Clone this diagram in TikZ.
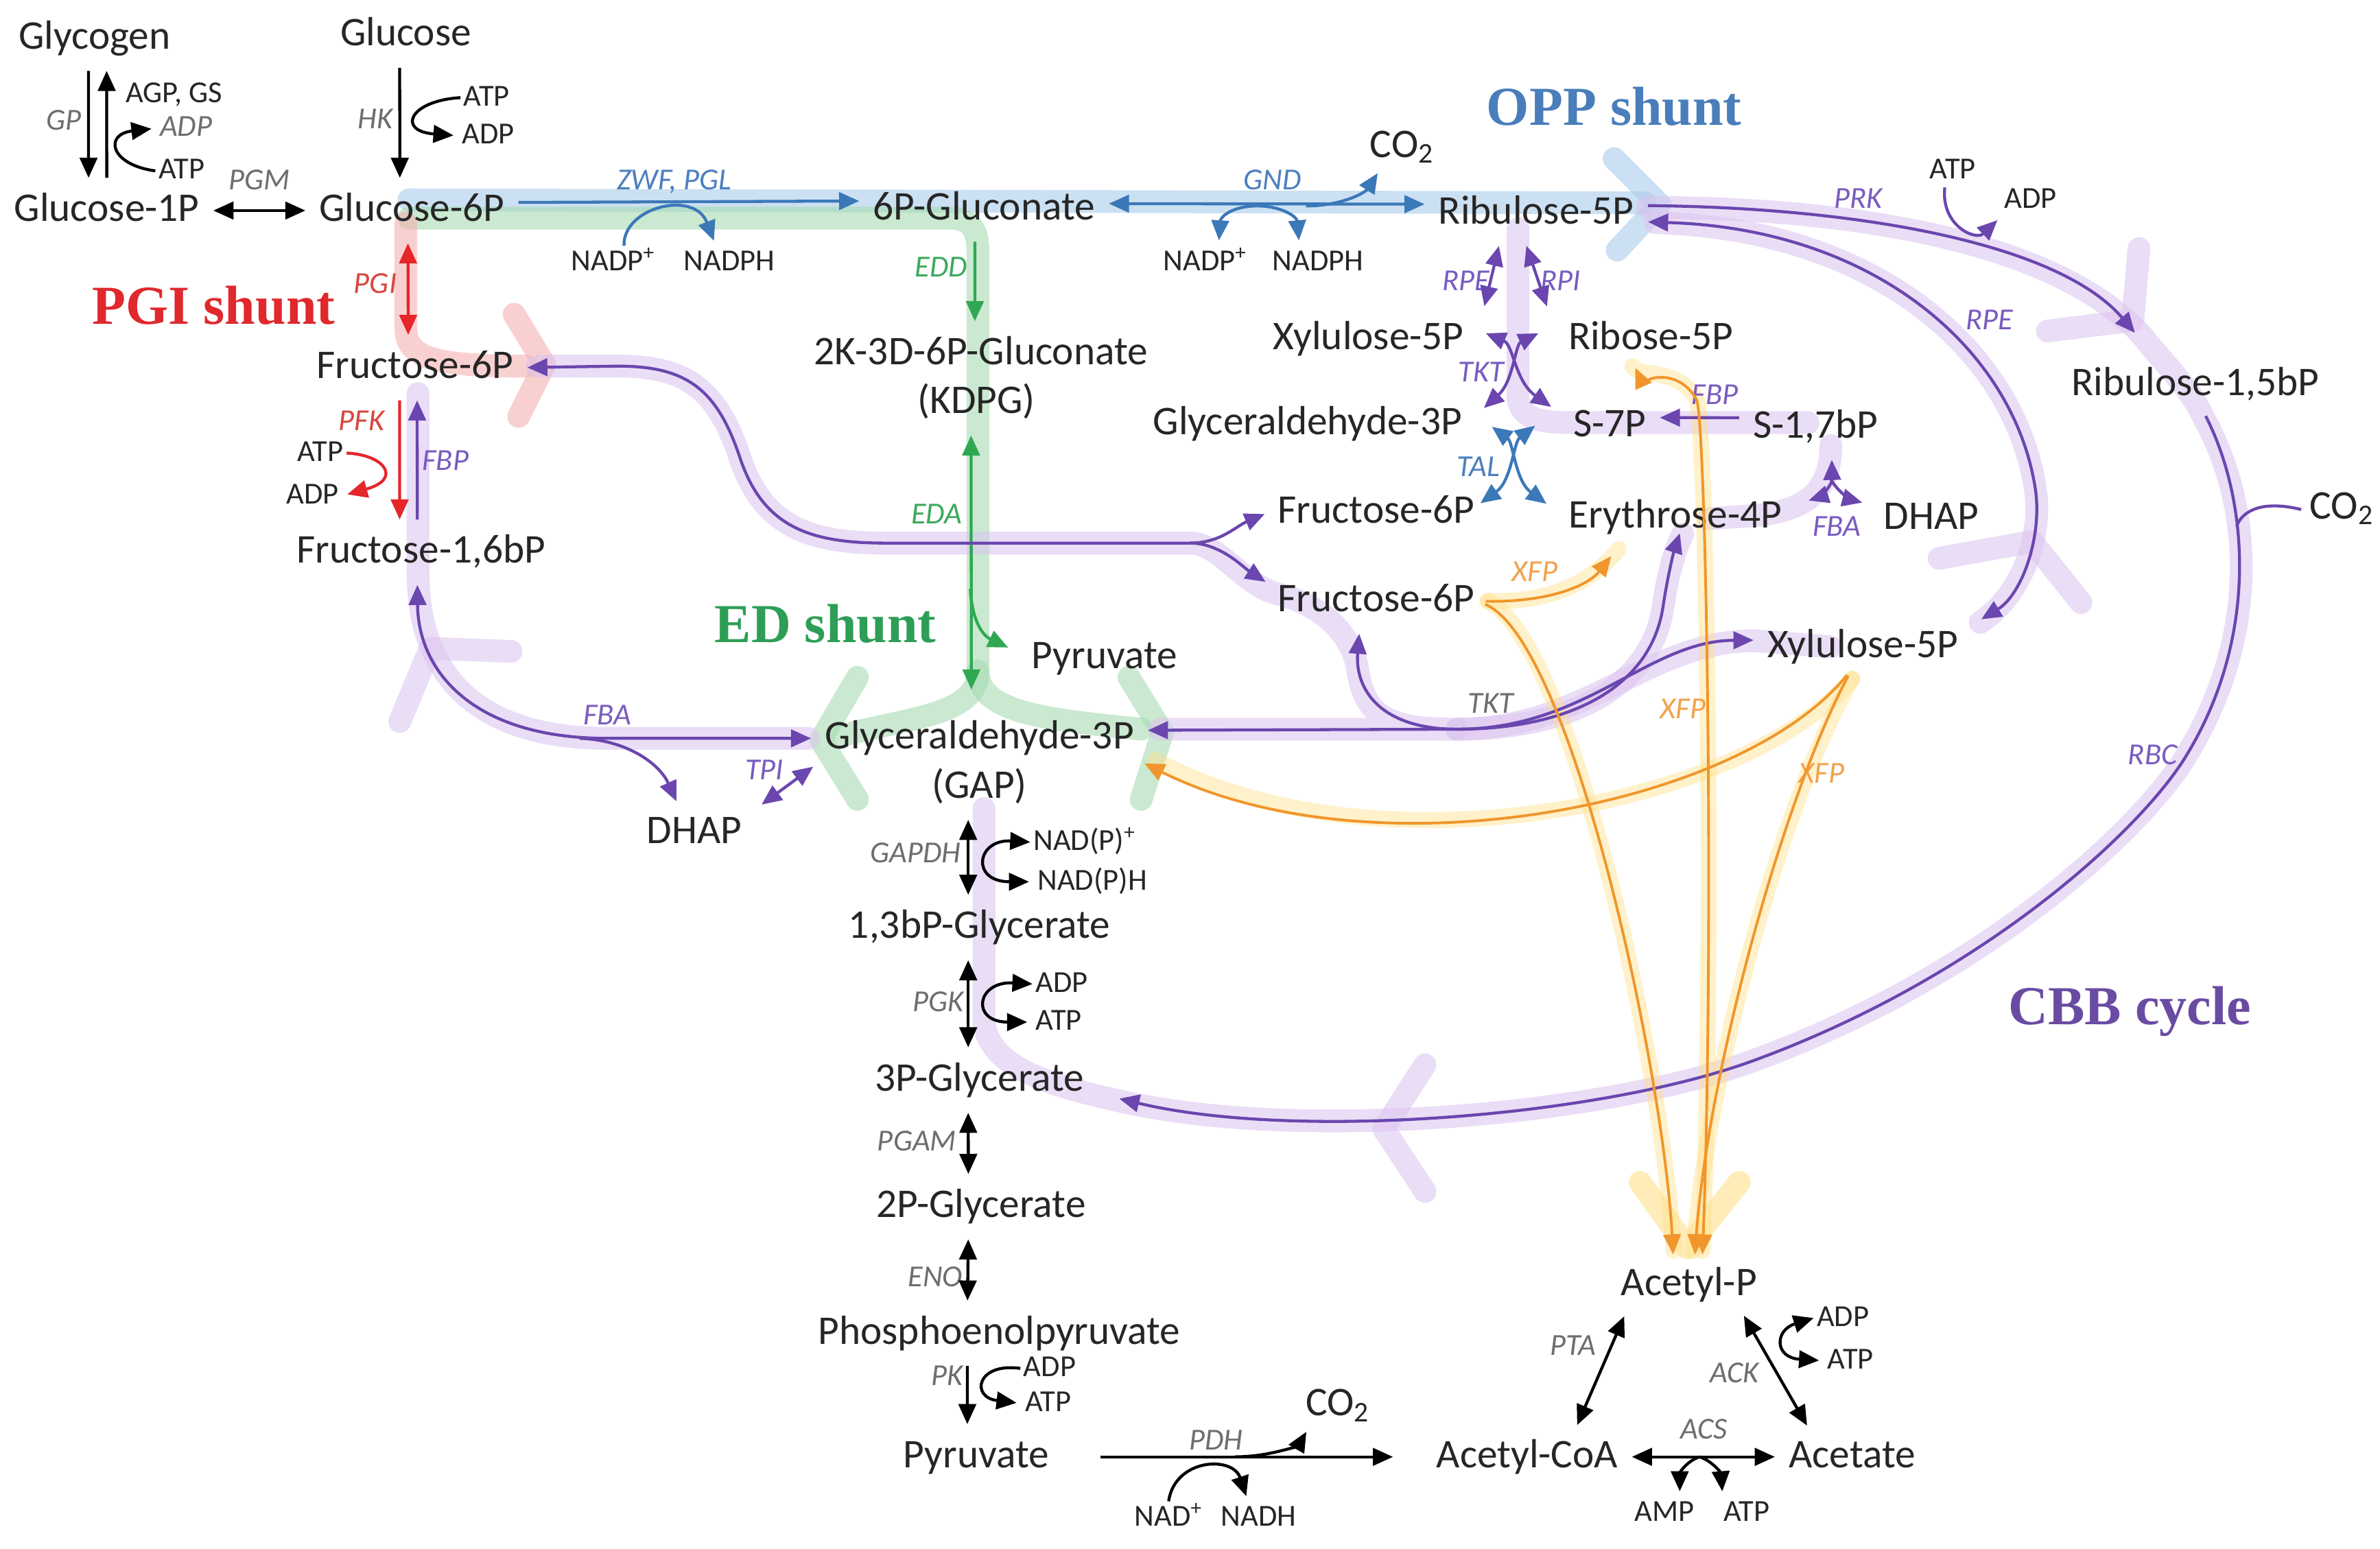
\documentclass[tikz,border=0pt]{standalone}
\usepackage{fontspec}
\setmainfont{Carlito}
\newfontfamily\titlefont{Liberation Serif}
\usetikzlibrary{arrows.meta}
\definecolor{oppblue}{HTML}{3B78B8}
\definecolor{oppglow}{HTML}{A9CBEA}
\definecolor{edgreen}{HTML}{2FA852}
\definecolor{edglow}{HTML}{A6DBB0}
\definecolor{pgired}{HTML}{E5262B}
\definecolor{pgiglow}{HTML}{F5B0B0}
\definecolor{cbbpurple}{HTML}{6A46AE}
\definecolor{cbbglow}{HTML}{DCC6F0}
\definecolor{xfporange}{HTML}{F0962C}
\definecolor{xfpglow}{HTML}{FFE08A}
\definecolor{enzgray}{HTML}{6E6E6E}
\definecolor{enzblue}{HTML}{4C80BE}
\definecolor{enzgreen}{HTML}{3CAA5E}
\definecolor{enzred}{HTML}{D9473F}
\definecolor{enzpurple}{HTML}{7A5CC0}
\definecolor{enzorange}{HTML}{F2A24C}
\definecolor{opptitle}{HTML}{4A7EBB}
\definecolor{pgititle}{HTML}{E0282D}
\definecolor{edtitle}{HTML}{2E9E57}
\definecolor{cbbtitle}{HTML}{6A4BA2}
\tikzset{
>={Triangle[length=7.5pt,width=6.5pt]},
met/.style={font=\fontsize{15.2}{18}\selectfont, text=black!85, inner sep=1pt, text height=11pt, text depth=3pt},
gas/.style={font=\fontsize{15.2}{18}\selectfont, text=black!85, inner sep=1pt, text height=10pt, text depth=3pt},
cof/.style={font=\fontsize{11.4}{13}\selectfont, text=black!85, inner sep=1pt, text height=8pt, text depth=2pt},
enz/.style={font=\fontsize{11.4}{13}\selectfont\itshape, text=enzgray, inner sep=1pt, text height=8pt, text depth=2pt},
shunt/.style={font=\titlefont\fontsize{20.5}{24}\selectfont\bfseries},
rx/.style={line width=1.1pt, shorten >=4pt, shorten <=4pt},
branch/.style={line width=1.1pt, shorten >=4pt},
side/.style={line width=1.1pt, shorten >=2pt},
tight/.style={line width=1.1pt},
xfp/.style={line width=1pt, draw=xfporange, shorten >=3pt, shorten <=3pt},
glow/.style={line width=8.5pt, line cap=round, line join=round, opacity=0.6},
thinglow/.style={line width=6pt, line cap=round, line join=round, opacity=0.45},
}

\begin{document}
\begin{tikzpicture}[x=0.02cm,y=-0.02cm]
    \useasboundingbox (0,0) rectangle (1560,1015);

    % highlighted routes
    \draw[glow,draw=oppglow] (268,131) -- (1078,133);
    \draw[glow,draw=oppglow] (1058,104) -- (1088,134) -- (1060,164);
    \draw[glow,draw=edglow] (268,143) -- (622,143) .. controls (636,143) and (641,150) .. (641,165) -- (641,440) .. controls (641,468) and (600,470) .. (552,482);
    \draw[glow,draw=edglow] (641,440) .. controls (641,468) and (690,472) .. (748,478);
    \draw[glow,draw=edglow] (562,444) -- (538,485) -- (562,524);
    \draw[glow,draw=edglow] (740,444) -- (762,480) -- (748,524);
    \draw[glow,draw=pgiglow] (266,146) -- (266,215) .. controls (266,235) and (285,240) .. (345,240);
    \draw[glow,draw=pgiglow] (337,206) -- (357,239) -- (340,273);
    \draw[glow,draw=cbbglow] (352,240) -- (405,240) .. controls (450,240) and (470,255) .. (485,300) .. controls (500,345) and (530,356) .. (580,356) -- (780,356) .. controls (800,356) and (815,385) .. (840,390) .. controls (870,398) and (888,420) .. (890,440) .. controls (895,470) and (910,478) .. (955,478) -- (760,478);
    \draw[glow,draw=cbbglow] (955,478) .. controls (1040,478) and (1080,420) .. (1150,420) -- (1200,424);
    \draw[glow,draw=cbbglow] (955,478) .. controls (1030,478) and (1082,450) .. (1090,398) .. controls (1093,378) and (1097,362) .. (1103,350);
    \draw[glow,draw=cbbglow] (1298,408) .. controls (1325,390) and (1339,352) .. (1334,320) .. controls (1320,230) and (1230,150) .. (1085,146);
    \draw[glow,draw=cbbglow] (1080,136) .. controls (1220,136) and (1350,160) .. (1404,220) .. controls (1420,240) and (1436,255) .. (1445,275) .. controls (1478,335) and (1480,420) .. (1432,497) .. controls (1402,545) and (1300,640) .. (1150,695) .. controls (1050,732) and (850,748) .. (735,722) .. controls (690,712) and (648,700) .. (645,670) -- (645,530);
    \draw[glow,draw=cbbglow] (530,484) -- (398,484) .. controls (310,484) and (274,440) .. (274,376) -- (274,258);
    \draw[glow,draw=cbbglow] (995,150) -- (995,262) .. controls (998,275) and (1010,277) .. (1030,277) -- (1185,277);
    \draw[glow,draw=cbbglow] (1200,292) .. controls (1200,325) and (1180,335) .. (1150,338) -- (1120,340);
    \draw[glow,draw=cbbglow] (934,698) -- (907,740) -- (934,781);
    \draw[glow,draw=cbbglow] (1402,163) -- (1398,210) -- (1342,217);
    \draw[glow,draw=cbbglow] (1271,366) -- (1332,355) -- (1364,395);
    \draw[glow,draw=cbbglow] (262,473) -- (282,425) -- (335,427);
    \draw[thinglow,draw=xfpglow] (975,394) .. controls (1012,395) and (1040,385) .. (1061,360);
    \draw[thinglow,draw=xfpglow] (975,394) .. controls (1030,420) and (1090,700) .. (1097,820);
    \draw[thinglow,draw=xfpglow] (1214,445) .. controls (1140,530) and (900,575) .. (757,498);
    \draw[thinglow,draw=xfpglow] (1214,445) .. controls (1170,520) and (1120,700) .. (1110,820);
    \draw[thinglow,draw=xfpglow] (1070,240) .. controls (1075,248) and (1100,240) .. (1112,262) .. controls (1118,273) and (1124,600) .. (1116,820);
    \draw[glow,draw=xfpglow] (1075,775) -- (1106,818) -- (1140,775);

    % metabolites
    \node[met] (glycogen) at (62,25) {Glycogen};
    \node[met] (glucose) at (266,23) {Glucose};
    \node[met] (g1p) at (70,138) {Glucose-1P};
    \node[met] (g6p) at (270,138) {Glucose-6P};
    \node[met] (gluc) at (645,137) {6P-Gluconate};
    \node[met] (ru5p) at (1007,140) {Ribulose-5P};
    \node[met] (f6p) at (272,241) {Fructose-6P};
    \node[met] (kdpga) at (643,232) {2K-3D-6P-Gluconate};
    \node[met] (kdpgb) at (640,264) {(KDPG)};
    \node[met] (fbp) at (276,362) {Fructose-1,6bP};
    \node[met] (pyra) at (724,431) {Pyruvate};
    \node[met] (gap) at (642,484) {Glyceraldehyde-3P};
    \node[met] (gapb) at (642,516) {(GAP)};
    \node[met] (dhapa) at (455,546) {DHAP};
    \node[met] (bpg) at (642,608) {1,3bP-Glycerate};
    \node[met] (pga3) at (642,708) {3P-Glycerate};
    \node[met] (pga2) at (643,791) {2P-Glycerate};
    \node[met] (pep) at (655,874) {Phosphoenolpyruvate};
    \node[met] (pyrb) at (640,955) {Pyruvate};
    \node[met] (accoa) at (1001,955) {Acetyl-CoA};
    \node[met] (acetate) at (1214,955) {Acetate};
    \node[met] (acp) at (1107,842) {Acetyl-P};
    \node[met] (xu5pa) at (897,222) {Xylulose-5P};
    \node[met] (r5p) at (1082,222) {Ribose-5P};
    \node[met] (g3p) at (857,278) {Glyceraldehyde-3P};
    \node[met] (s7p) at (1055,279) {S-7P};
    \node[met] (sbp) at (1190,280) {S-1,7bP};
    \node[met] (f6pa) at (902,336) {Fructose-6P};
    \node[met] (e4p) at (1098,339) {Erythrose-4P};
    \node[met] (dhapb) at (1266,340) {DHAP};
    \node[met] (f6pb) at (902,394) {Fructose-6P};
    \node[met] (xu5pb) at (1221,424) {Xylulose-5P};
    \node[met] (rubp) at (1439,252) {Ribulose-1,5bP};

    % route titles
    \node[shunt,text=opptitle] (opp) at (1058,70) {OPP shunt};
    \node[shunt,text=pgititle] (pgis) at (140,200) {PGI shunt};
    \node[shunt,text=edtitle] (eds) at (541,409) {ED shunt};
    \node[shunt,text=cbbtitle] (cbb) at (1396,663) {CBB cycle};

    % enzymes and cofactors
    \node[cof] (agpgs) at (114,62) {AGP, GS};
    \node[enz] (adpa) at (122,84) {ADP};
    \node[cof] (atpa) at (119,112) {ATP};
    \node[enz] (gp) at (42,80) {GP};
    \node[enz] (pgm) at (170,119) {PGM};
    \node[enz] (hk) at (246,79) {HK};
    \node[cof] (atpb) at (319,64) {ATP};
    \node[cof] (adpb) at (320,89) {ADP};
    \node[enz,text=enzblue] (zwf) at (442,119) {ZWF, PGL};
    \node[cof] (nadpa) at (402,172) {NADP\textsuperscript{+}};
    \node[cof] (nadpha) at (478,172) {NADPH};
    \node[enz,text=enzblue] (gnd) at (834,119) {GND};
    \node[gas] (co2a) at (919,97) {CO\textsubscript{2}};
    \node[cof] (nadpb) at (790,172) {NADP\textsuperscript{+}};
    \node[cof] (nadphb) at (864,172) {NADPH};
    \node[enz,text=enzred] (pgi) at (246,187) {PGI};
    \node[enz,text=enzred] (pfk) at (237,277) {PFK};
    \node[cof] (atpc) at (210,297) {ATP};
    \node[cof] (adpc) at (205,325) {ADP};
    \node[enz,text=enzpurple] (fbpa) at (292,303) {FBP};
    \node[enz,text=enzgreen] (edd) at (617,176) {EDD};
    \node[enz,text=enzgreen] (eda) at (614,338) {EDA};
    \node[enz,text=enzpurple] (rpea) at (961,185) {RPE};
    \node[enz,text=enzpurple] (rpi) at (1023,185) {RPI};
    \node[enz,text=enzpurple] (tkta) at (971,245) {TKT};
    \node[enz,text=enzblue] (tal) at (969,307) {TAL};
    \node[enz,text=enzpurple] (fbpb) at (1124,260) {FBP};
    \node[enz,text=enzpurple] (fbab) at (1204,346) {FBA};
    \node[enz,text=enzpurple] (prk) at (1218,131) {PRK};
    \node[cof] (atpd) at (1280,112) {ATP};
    \node[cof] (adpd) at (1331,131) {ADP};
    \node[enz,text=enzpurple] (rpeb) at (1304,211) {RPE};
    \node[gas] (co2b) at (1535,334) {CO\textsubscript{2}};
    \node[enz,text=enzpurple] (rbc) at (1411,496) {RBC};
    \node[enz] (tktb) at (977,462) {TKT};
    \node[enz,text=enzorange] (xfpa) at (1006,376) {XFP};
    \node[enz,text=enzorange] (xfpb) at (1103,466) {XFP};
    \node[enz,text=enzorange] (xfpc) at (1194,508) {XFP};
    \node[enz,text=enzpurple] (fbaa) at (398,470) {FBA};
    \node[enz,text=enzpurple] (tpi) at (501,506) {TPI};
    \node[enz] (gapdh) at (600,560) {GAPDH};
    \node[cof] (nadpp) at (711,552) {NAD(P)\textsuperscript{+}};
    \node[cof] (nadph2) at (716,578) {NAD(P)H};
    \node[enz] (pgk) at (615,658) {PGK};
    \node[cof] (adpe) at (696,645) {ADP};
    \node[cof] (atpe) at (694,670) {ATP};
    \node[enz] (pgam) at (601,749) {PGAM};
    \node[enz] (eno) at (613,838) {ENO};
    \node[enz] (pk) at (621,903) {PK};
    \node[cof] (adpf) at (688,897) {ADP};
    \node[cof] (atpf) at (687,920) {ATP};
    \node[enz] (pdh) at (797,945) {PDH};
    \node[gas] (co2c) at (877,922) {CO\textsubscript{2}};
    \node[cof] (nad) at (766,995) {NAD\textsuperscript{+}};
    \node[cof] (nadh) at (825,995) {NADH};
    \node[enz] (pta) at (1031,883) {PTA};
    \node[enz] (ack) at (1137,901) {ACK};
    \node[cof] (adpg) at (1208,864) {ADP};
    \node[cof] (atpg) at (1213,892) {ATP};
    \node[enz] (acs) at (1117,938) {ACS};
    \node[cof] (amp) at (1091,992) {AMP};
    \node[cof] (atph) at (1145,992) {ATP};

    % branch points
    \coordinate (gndc) at (824,135);
    \coordinate (gndd) at (856,135);
    \coordinate (edab) at (636,386);
    \coordinate (dhapc) at (380,484);
    \coordinate (f6pc) at (780,356);
    \coordinate (tktc) at (955,478);
    \coordinate (fbac) at (1199,312);
    \coordinate (rbcc) at (1466,345);
    \coordinate (pdhc) at (809,955);
    \coordinate (acsc) at (1114,955);

    % glycogen and glucose
    \draw[rx,->] ([xshift=-2.3pt]glycogen.south) -- ([xshift=-6.8pt]g1p.north);
    \draw[rx,->] (g1p.north) -- ([xshift=4.5pt]glycogen.south);
    \draw[side,->] (atpa.west) .. controls (72,108) and (68,88) .. (adpa.west);
    \draw[rx,<->] (g1p) -- (g6p);
    \draw[rx,->] ([xshift=-2.3pt]glucose.south) -- ([xshift=-4.5pt]g6p.north);
    \draw[side,->] (atpb.west) .. controls (268,66) and (260,86) .. (adpb.west);

    % OPP shunt
    \draw[rx,->,oppblue] ([yshift=3pt]g6p.east) -- ([yshift=3pt]gluc.west);
    \draw[side,->,oppblue] ([xshift=4pt]nadpa.north) .. controls (408,136) and (455,124) .. ([xshift=-5pt]nadpha.north);
    \draw[rx,<->,oppblue] ([yshift=2pt]gluc.east) -- ([yshift=3.5pt]ru5p.west);
    \draw[side,->,oppblue] (gndc) .. controls (808,135) and (800,142) .. ([xshift=5pt]nadpb.north);
    \draw[side,->,oppblue] (gndc) .. controls (840,135) and (850,142) .. ([xshift=-7pt]nadphb.north);
    \draw[side,->,oppblue] (gndd) .. controls (880,135) and (895,126) .. ([xshift=-8pt]co2a.south);

    % PGI shunt and upper glycolysis
    \draw[rx,<->,pgired] ([xshift=-1.5pt]g6p.south) -- ([xshift=-2.5pt]f6p.north);
    \draw[rx,->,pgired] ([xshift=-5.7pt]f6p.south) -- ([xshift=-8pt]fbp.north);
    \draw[side,->,pgired] (atpc.east) .. controls (252,298) and (264,314) .. (adpc.east);
    \draw[rx,->,cbbpurple] ([xshift=-1.4pt]fbp.north) -- ([xshift=0.8pt]f6p.south);

    % ED shunt
    \draw[rx,->,edgreen] ([xshift=-3.4pt]gluc.south) -- ([xshift=-2.3pt]kdpga.north);
    \draw[rx,<->,edgreen,shorten >=10pt] ([xshift=-2pt]kdpgb.south) -- ([xshift=-3pt]gap.north);
    \draw[branch,->,edgreen] (edab) .. controls (637,405) and (643,416) .. ([shift={(-4pt,2pt)}]pyra.west);

    % aldolase and triose phosphates
    \draw[rx,<->,cbbpurple] ([xshift=-1.4pt]fbp.south) .. controls (274,440) and (310,484) .. (398,484) -- (gap.west);
    \draw[branch,->,cbbpurple] (dhapc) .. controls (410,485) and (432,500) .. ([xshift=-5pt]dhapa.north);
    \draw[rx,<->,cbbpurple] ([xshift=3pt]dhapa.north east) -- (gap.south west);

    % lower glycolysis
    \draw[rx,<->] ([xshift=-4.2pt]gapb.south) -- ([xshift=-4.2pt]bpg.north);
    \draw[side,<->] (nadpp.west) .. controls (640,550) and (636,578) .. (nadph2.west);
    \draw[rx,<->] ([xshift=-4.2pt]bpg.south) -- ([xshift=-4.2pt]pga3.north);
    \draw[side,<->] (adpe.west) .. controls (640,643) and (636,670) .. (atpe.west);
    \draw[rx,<->] ([xshift=-4.2pt]pga3.south) -- ([xshift=-4.7pt]pga2.north);
    \draw[rx,<->] ([xshift=-4.7pt]pga2.south) -- ([xshift=-11.9pt]pep.north);
    \draw[rx,->] ([xshift=-11.9pt]pep.south) -- ([xshift=-3.4pt]pyrb.north);
    \draw[side,->] (adpf.west) .. controls (640,893) and (636,916) .. (atpf.west);

    % acetate branch
    \draw[rx,->,shorten <=18pt,shorten >=15pt] (pyrb) -- (accoa);
    \draw[side,->] (pdhc) .. controls (835,955) and (852,946) .. ([xshift=-10.8pt]co2c.south);
    \draw[side,->] (nad.north) .. controls (770,956) and (808,954) .. ([xshift=-4pt]nadh.north);
    \draw[rx,<->] (accoa) -- (acetate);
    \draw[side,->] (acsc) .. controls (1105,958) and (1101,966) .. ([xshift=5.7pt]amp.north);
    \draw[side,->] (acsc) .. controls (1123,958) and (1128,966) .. ([xshift=-9pt]atph.north);
    \draw[rx,<->] ([xshift=4pt]acp.south west) -- ([xshift=-18pt]accoa.north east);
    \draw[rx,<->] ([xshift=-8pt]acp.south east) -- ([xshift=10pt]acetate.north west);
    \draw[side,<->] (adpg.west) .. controls (1163,872) and (1163,890) .. (atpg.west);

    % pentose phosphates
    \draw[rx,<->,cbbpurple] ([xshift=-13pt]ru5p.south) -- ([xshift=5.5pt]xu5pa.north east);
    \draw[rx,<->,cbbpurple] ([xshift=-5pt]ru5p.south) -- ([xshift=-5.5pt]r5p.north west);
    \draw[tight,<->,cbbpurple] ([shift={(7pt,2pt)}]xu5pa.east) .. controls (992,226) and (993,250) .. ([shift={(-7pt,7pt)}]s7p.west);
    \draw[tight,<->,cbbpurple] ([shift={(-10pt,2pt)}]r5p.west) .. controls (993,226) and (992,250) .. ([shift={(7pt,6pt)}]g3p.east);
    \draw[tight,<->,oppblue] ([shift={(10pt,-1pt)}]g3p.east) .. controls (992,290) and (993,315) .. ([shift={(-7pt,5pt)}]e4p.west);
    \draw[tight,<->,oppblue] ([shift={(-13pt,0pt)}]s7p.west) .. controls (992,290) and (991,315) .. ([shift={(1pt,3.5pt)}]f6pa.east);
    \draw[rx,->,cbbpurple] ([yshift=3.5pt]sbp.west) -- ([yshift=3pt]s7p.east);
    \draw[rx,<->,cbbpurple] ([xshift=6pt]sbp.south) .. controls (1201,318) and (1192,326) .. ([shift={(5pt,5pt)}]e4p.east);
    \draw[branch,->,cbbpurple] (fbac) .. controls (1203,322) and (1215,328) .. ([shift={(-3pt,5pt)}]dhapb.west);

    % CBB cycle
    \draw[rx,->,cbbpurple] ([yshift=3pt]ru5p.east) .. controls (1220,136) and (1350,160) .. ([shift={(-20pt,8pt)}]rubp.north);
    \draw[side,->,cbbpurple] ([xshift=-3pt]atpd.south) .. controls (1272,148) and (1295,158) .. (adpd.south west);
    \draw[rx,<->,cbbpurple] ([yshift=-3pt]ru5p.east) .. controls (1230,150) and (1320,230) .. (1334,320) .. controls (1339,352) and (1325,390) .. ([xshift=4pt]xu5pb.north east);
    \draw[rx,->,cbbpurple] ([xshift=2pt]rubp.south) .. controls (1475,330) and (1480,420) .. (1432,497) .. controls (1402,545) and (1300,640) .. (1150,695) .. controls (1050,732) and (850,748) .. ([shift={(8pt,-6pt)}]pga3.east);
    \draw[tight,cbbpurple] ([xshift=-2pt]co2b.west) .. controls (1484,328) and (1470,334) .. (rbcc);

    % transketolase toward triose phosphate
    \draw[branch,->,cbbpurple] (tktc) -- ([yshift=3pt]gap.east);
    \draw[branch,->,cbbpurple] (tktc) .. controls (905,478) and (888,452) .. ([xshift=-6pt]f6pb.south);
    \draw[branch,->,cbbpurple] (tktc) .. controls (1030,478) and (1082,450) .. (1090,398) .. controls (1093,378) and (1097,362) .. ([shift={(3pt,6pt)}]e4p.south);
    \draw[branch,->,cbbpurple] (tktc) .. controls (1040,478) and (1080,420) .. ([yshift=2.5pt]xu5pb.west);
    \draw[branch,->,cbbpurple] (f6pc) -- (580,356) .. controls (530,356) and (500,345) .. (485,300) .. controls (470,255) and (450,240) .. (405,240) -- (f6p.east);
    \draw[branch,->,cbbpurple] (f6pc) .. controls (800,356) and (810,345) .. ([yshift=1pt]f6pa.west);
    \draw[branch,->,cbbpurple] (f6pc) .. controls (800,356) and (815,372) .. ([yshift=5pt]f6pb.west);

    % phosphoketolase
    \draw[xfp,->] (f6pb.east) .. controls (1012,395) and (1040,385) .. ([shift={(-22pt,-4pt)}]e4p.south);
    \draw[xfp,->] (f6pb.east) .. controls (1030,420) and (1090,700) .. ([xshift=-5.7pt]acp.north);
    \draw[xfp,->] ([xshift=-4pt]xu5pb.south) .. controls (1140,530) and (900,575) .. ([yshift=-8pt]gap.east);
    \draw[xfp,->] ([xshift=-4pt]xu5pb.south) .. controls (1170,520) and (1120,700) .. ([xshift=2pt]acp.north);
    \draw[xfp,<->] ([xshift=-7pt]r5p.south) .. controls (1075,248) and (1100,240) .. (1112,262) .. controls (1118,273) and (1124,600) .. ([xshift=5pt]acp.north);

\end{tikzpicture}
\end{document}
